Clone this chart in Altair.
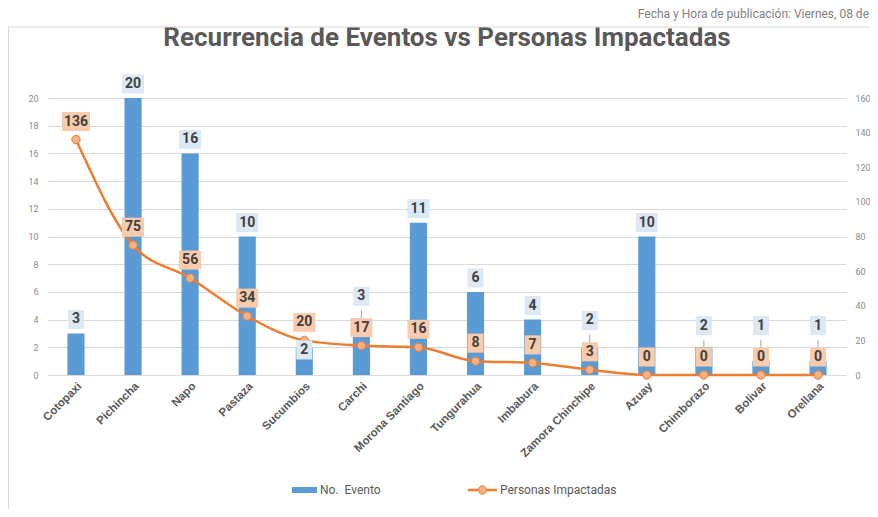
import altair as alt
import pandas as pd

# ---------------- data ----------------
provincias = ["Cotopaxi", "Pichincha", "Napo", "Pastaza", "Sucumbios", "Carchi",
              "Morona Santiago", "Tungurahua", "Imbabura", "Zamora Chinchipe",
              "Azuay", "Chimborazo", "Bolivar", "Orellana"]
eventos = [3, 20, 16, 10, 2, 3, 11, 6, 4, 2, 10, 2, 1, 1]
personas = [136, 75, 56, 34, 20, 17, 16, 8, 7, 3, 0, 0, 0, 0]
left_ticks = list(range(0, 21, 2))
right_ticks = list(range(0, 161, 20))

df = pd.DataFrame({"provincia": provincias, "eventos": eventos, "personas": personas})

W, H = 798, 277
BLUE = "#5b9bd5"
ORANGE = "#ed7d31"
TXT = "#404040"
NARROW = "Liberation Sans Narrow, Roboto, sans-serif"
LBL = "Roboto, sans-serif"

# box shapes (label backgrounds) for 1, 2, 3 digit labels
def box(hw, hh):
    return f"M-{hw},-{hh}L{hw},-{hh}L{hw},{hh}L-{hw},{hh}Z"

box_paths = [box(0.571, 0.68), box(0.786, 0.68), box(1.0, 0.68)]
box_dom = ["d1", "d2", "d3"]

xenc = alt.X(
    "provincia:N", sort=provincias, title=None,
    scale=alt.Scale(paddingInner=0.7, paddingOuter=0.34),
    axis=alt.Axis(labelAngle=-45, labelFont="Liberation Sans, Arial, sans-serif",
                  labelFontWeight="bold", labelFontSize=11.5, labelColor="#595959",
                  ticks=False, domain=False, labelPadding=5),
)
ly = alt.Scale(domain=[0, 20], nice=False)
ry = alt.Scale(domain=[0, 160], nice=False)

base = alt.Chart(df).transform_calculate(
    p="datum.personas / 8",
).transform_calculate(
    anchor=("(datum.p > datum.eventos && datum.p < datum.eventos + 1.5) ? datum.eventos - 1.2 : "
            "((datum.p <= datum.eventos && datum.p + 2.55 > datum.eventos) ? datum.p + 2.55 : datum.eventos)"),
    dig_e="'d' + length(toString(datum.eventos))",
    dig_p="'d' + length(toString(datum.personas))",
)

bars = base.mark_bar(color=BLUE).encode(
    x=xenc,
    y=alt.Y("eventos:Q", scale=ly, title=None,
            axis=alt.Axis(values=left_ticks, labelFont=NARROW, labelFontSize=9,
                          labelColor="#8c8c8c", gridColor="#d9d9d9", domain=False,
                          ticks=False, labelPadding=10)),
)

leaders = base.transform_filter("datum.anchor > datum.eventos").mark_rule(
    color="#a6a6a6", strokeWidth=1
).encode(
    x=xenc,
    y=alt.Y("eventos:Q", scale=ly, axis=None),
    y2="anchor:Q",
)

line = base.mark_line(color=ORANGE, strokeWidth=2.5, interpolate="monotone").encode(
    x=xenc,
    y=alt.Y("personas:Q", scale=ry, title=None,
            axis=alt.Axis(orient="right", values=right_ticks, grid=False,
                          labelFont=NARROW, labelFontSize=9, labelColor="#8c8c8c",
                          domain=False, ticks=False, labelPadding=9)),
)

points = base.mark_point(filled=True, size=70, fill="#f4b183", stroke=ORANGE,
                         strokeWidth=1, opacity=1).encode(
    x=xenc, y=alt.Y("personas:Q", scale=ry, axis=None)
)

o_boxes = base.mark_point(filled=True, size=784, color="#f8cbad", opacity=1,
                          strokeWidth=0, yOffset=-18).encode(
    x=xenc, y=alt.Y("personas:Q", scale=ry, axis=None),
    shape=alt.Shape("dig_p:N", scale=alt.Scale(domain=box_dom, range=box_paths), legend=None),
)
o_text = base.mark_text(font=LBL, fontWeight="bold", fontSize=14, color=TXT,
                        baseline="middle", yOffset=-18).encode(
    x=xenc, y=alt.Y("personas:Q", scale=ry, axis=None), text="personas:Q"
)

b_boxes = base.mark_point(filled=True, size=784, color="#dde8f5", opacity=1,
                          strokeWidth=0, yOffset=-14).encode(
    x=xenc, y=alt.Y("anchor:Q", scale=ly, axis=None),
    shape=alt.Shape("dig_e:N", scale=alt.Scale(domain=box_dom, range=box_paths), legend=None),
)
b_text = base.mark_text(font=LBL, fontWeight="bold", fontSize=14, color=TXT,
                        baseline="middle", yOffset=-14).encode(
    x=xenc, y=alt.Y("anchor:Q", scale=ly, axis=None), text="eventos:Q"
)

# ---------------- decoration: title, legend, frame, header ----------------
one = alt.Chart(pd.DataFrame({"k": [0]}))
title = one.mark_text(text="Recurrencia de Eventos vs Personas Impactadas",
                      font="Roboto, sans-serif", fontSize=26, fontWeight="bold",
                      color="#595959", align="center", baseline="middle").encode(
    x=alt.value(W / 2), y=alt.value(-60))
leg_bar = one.mark_rect(color=BLUE).encode(
    x=alt.value(244), x2=alt.value(269), y=alt.value(389), y2=alt.value(395))
leg_bar_t = one.mark_text(text="No.\u00a0 Evento", font=NARROW, fontSize=12,
                          color="#595959", align="left", baseline="middle").encode(
    x=alt.value(272), y=alt.value(392))
leg_line = one.mark_rule(color=ORANGE, strokeWidth=2.5).encode(
    x=alt.value(420), x2=alt.value(449), y=alt.value(392))
leg_pt = one.mark_point(filled=True, size=70, fill="#f4b183", stroke=ORANGE,
                        strokeWidth=1, opacity=1).encode(x=alt.value(434.5), y=alt.value(392))
leg_line_t = one.mark_text(text="Personas Impactadas", font=NARROW, fontSize=12,
                           color="#595959", align="left", baseline="middle").encode(
    x=alt.value(452), y=alt.value(392))
frame_top = one.mark_rule(color="#d9d9d9", strokeWidth=1).encode(
    x=alt.value(-40), x2=alt.value(830), y=alt.value(-71))
frame_left = one.mark_rule(color="#d9d9d9", strokeWidth=1).encode(
    x=alt.value(-39.5), y=alt.value(-71), y2=alt.value(420))
header = one.mark_text(text="Fecha y Hora de publicación: Viernes, 08 de", font=NARROW,
                       fontSize=12, color="#7f7f7f", align="right",
                       baseline="alphabetic").encode(x=alt.value(821), y=alt.value(-80))

chart = alt.layer(
    bars, leaders, line, points, o_boxes, o_text, b_boxes, b_text,
    title, leg_bar, leg_bar_t, leg_line, leg_pt, leg_line_t, frame_top, frame_left, header,
).resolve_scale(y="independent").properties(
    width=W, height=H,
    padding={"left": 40, "top": 90, "right": 24, "bottom": 134},
    autosize=alt.AutoSizeParams(type="none"),
).configure_view(stroke=None)

chart.save("out.html", embed_options={"renderer": "svg", "actions": False})
